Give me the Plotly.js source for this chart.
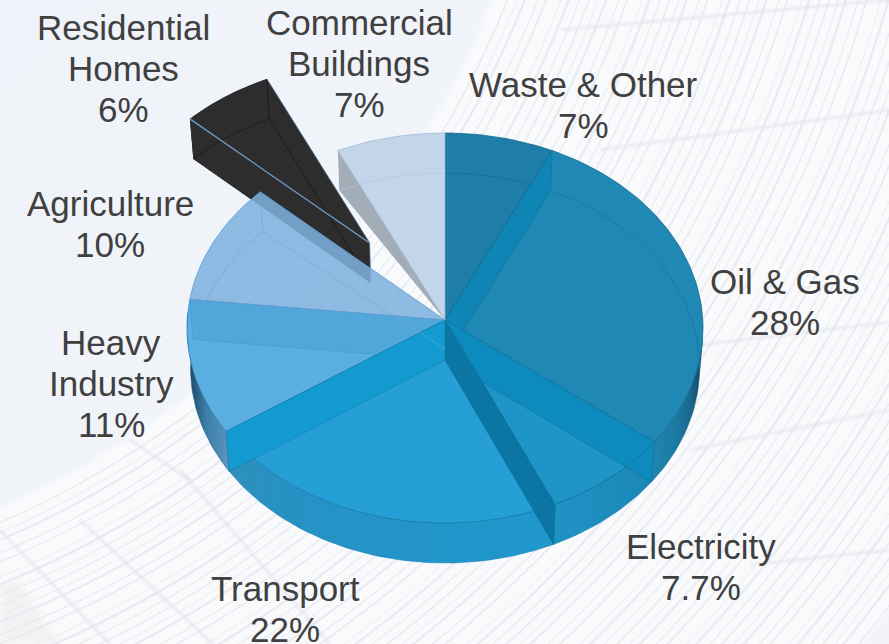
<!DOCTYPE html>
<html>
<head>
<meta charset="utf-8">
<script src="https://cdn.plot.ly/plotly-3.0.1.min.js"></script>
<style>html,body{margin:0;padding:0;background:#f4f6fb}#chart{width:889px;height:644px}</style>
</head>
<body>
<div id="chart"></div>
<script>
// Greenhouse gas shares by sector, clockwise from twelve o'clock
const sectors = ["Waste & Other","Oil & Gas","Electricity","Transport","Heavy Industry","Agriculture","Residential Homes","Commercial Buildings"];
const shares = [7, 28, 7.7, 22, 11, 10, 6, 7];
const shareLabels = ["7%","28%","7.7%","22%","11%","10%","6%","7%"];
const labelLines = [["Waste & Other"],["Oil & Gas"],["Electricity"],["Transport"],["Heavy","Industry"],["Agriculture"],["Residential","Homes"],["Commercial","Buildings"]];

// Where each label block sits: centre x and centre y of its first line
const labelAnchors = [[583,84],[785,281],[701,546],[285,588],[111,342],[110,203],[123,27],[359,22]];
const lineStep = 41;

const faceColors = ["#1e7ea7","#1f88b4","#1e95c6","#259fd5","#5aaee0","rgba(126,177,223,0.87)","#2d2d2d","#c2d5e9"];

// Projection of the tilted disc: a disc automorphism keeps the rim elliptical
// while moving the centre point slightly away from the ellipse centre
const TILT = -0.041;
const TOP = {cx:445, cy:328, rx:258, ry:195};
const BASE = {cx:445, cy:368, rx:254.5, ry:195};
function project(u, v, plane) {
  const w = 1 + TILT * v;
  return [plane.cx + plane.rx * Math.sqrt(1 - TILT * TILT) * u / w,
          plane.cy + plane.ry * (v + TILT) / w];
}
function rimPoint(deg, plane, ex, ey) {
  const t = deg * Math.PI / 180;
  return project(Math.sin(t) + (ex || 0), -Math.cos(t) + (ey || 0), plane);
}
function arc(a, b, plane, ex, ey) {
  const n = Math.max(2, Math.ceil(Math.abs(b - a) / 1.5));
  const out = [];
  for (let i = 0; i <= n; i++) out.push(rimPoint(a + (b - a) * i / n, plane, ex, ey));
  return out;
}
const total = shares.reduce((s, v) => s + v, 0);
const edges = [0];
shares.forEach(v => edges.push(edges[edges.length - 1] + v / total * 360));
const apexTop = project(0, 0, TOP);
const apexBase = project(0, 0, BASE);

const traces = [];
function poly(points, fill, lineColor, lineWidth, gradient) {
  const tr = {
    type: "scatter", mode: "lines", hoverinfo: "skip", showlegend: false,
    x: points.map(p => p[0]), y: points.map(p => p[1]),
    line: {color: lineColor || "rgba(0,0,0,0)", width: lineWidth === undefined ? 0.8 : lineWidth}
  };
  if (fill || gradient) {
    tr.fill = "toself";
    tr.x.push(tr.x[0]); tr.y.push(tr.y[0]);
    if (gradient) tr.fillgradient = {type: "horizontal", colorscale: gradient};
    else tr.fillcolor = fill;
  }
  traces.push(tr);
}
function stroke(points, color, width) { poly(points, null, color, width); }
function face(i) { return [apexTop].concat(arc(edges[i], edges[i + 1], TOP)); }
function band(deg) { return [apexTop, rimPoint(deg, TOP), rimPoint(deg, BASE), apexBase]; }
function rim(a, b) { return arc(a, b, TOP).concat(arc(b, a, BASE)); }

// Residential wedge pulled out of the disc along its middle angle
const midRes = (edges[6] + edges[7]) / 2 * Math.PI / 180;
const pull = 0.5, ex = Math.sin(midRes) * pull, ey = -Math.cos(midRes) * pull;
const resApexTop = project(ex, ey, TOP), resApexBase = project(ex, ey, BASE);
const dark = "#2d2d2d";
poly([resApexBase].concat(arc(edges[6], edges[7], BASE, ex, ey)), dark);
poly([resApexTop, rimPoint(edges[6], TOP, ex, ey), rimPoint(edges[6], BASE, ex, ey), resApexBase], dark);
poly(arc(edges[6], edges[7], TOP, ex, ey).concat(arc(edges[7], edges[6], BASE, ex, ey)), dark);
poly([resApexTop].concat(arc(edges[6], edges[7], TOP, ex, ey)), dark);
stroke([resApexBase, rimPoint(edges[7], BASE, ex, ey)], "#191919", 0.8);
stroke(arc(edges[6], edges[7], BASE, ex, ey), "#191919", 0.8);
stroke([rimPoint(edges[7], TOP, ex, ey), rimPoint(edges[7], BASE, ex, ey)], "#191919", 0.8);
stroke([resApexTop, rimPoint(edges[6], TOP, ex, ey)], "#6f9dc8", 1.3);
stroke([resApexTop, rimPoint(edges[7], TOP, ex, ey)], "#3c5f7e", 0.8);
stroke([resApexTop, resApexBase], "#4a6f92", 0.8);

// Side walls along the front of the disc
poly(rim(96, edges[2]), null, "#14607f", 0.5, [[0,"#1f86b2"],[0.5,"#1b7aa3"],[0.8,"#1a6488"],[1,"#123f58"]]);
poly(rim(edges[2], edges[3]), null, "#147fae", 0.5, [[0,"#1f93c5"],[1,"#1b87b6"]]);
poly(rim(edges[3], edges[4]), null, "#157fb0", 0.5, [[0,"#2f8fbb"],[0.2,"#2592c4"],[1,"#1f97cd"]]);
poly(rim(edges[4], 272), null, "#1d5d85", 0.5, [[0,"#1a3f5e"],[0.45,"#3b7ea7"],[1,"#5c96bd"]]);

// Back slices and their inner walls
poly(face(0), faceColors[0], "#17688c", 0.8);
stroke(arc(edges[0], edges[1], BASE), "#186d92", 0.8);
poly(face(1), faceColors[1], "#17688c", 0.8);
poly(band(edges[1]), "#0e85b5", "#17688c", 0.5);
stroke(arc(edges[1], 94, BASE), "#1a779f", 0.9);
// Front slices, each covering the wall of the slice behind it
poly(face(2), faceColors[2], "#177aa5", 0.6);
poly(band(edges[2]), "#0d8bbe", "#13709a", 0.6);
poly(face(4), faceColors[4], "#2d86bb", 0.6);
poly(band(edges[5]), "#52a7da", "#4596c8", 0.5);
poly(face(3), faceColors[3], "#167eac", 0.9);
poly(band(edges[3]), "#0b76a3", "#0a6c96", 0.5);
poly(band(edges[4]), "#139ad0", "#0f7fb0", 0.6);
stroke(arc(edges[2], edges[3], TOP), "#1174a0", 0.9);

// Commercial wall, then the two pale slices laid over everything behind them
poly([rimPoint(edges[7], TOP), rimPoint(edges[7], BASE), apexTop], "#a3adb8");
poly(face(5), faceColors[5], "#5f9bd0", 0.8);
stroke([rimPoint(edges[6], TOP), rimPoint(edges[6], BASE)], "#6da2d1", 0.6);
stroke(arc(edges[5], edges[6], BASE), "#6da2d1", 0.6);
stroke([rimPoint(edges[6], BASE), apexBase.map((c, k) => c + (apexTop[k] - c) * 0.28)], "#76a7d3", 0.6);
poly(face(7), faceColors[7], "#96b5d6", 0.7);
stroke(arc(edges[7], 360, BASE), "#b3c8de", 0.6);

// Labels: sector name lines followed by the share, each line at a fixed step
const annotations = [];
labelLines.forEach((lines, i) => {
  lines.concat([shareLabels[i]]).forEach((text, k) => {
    annotations.push({
      x: labelAnchors[i][0], y: labelAnchors[i][1] + k * lineStep,
      xref: "x", yref: "y", text: text, showarrow: false,
      xanchor: "center", yanchor: "middle",
      font: {family: "Liberation Sans, Arial, sans-serif", size: 35, color: "#404040"}
    });
  });
});

// Pale architectural backdrop: concentric stripes beyond a dome edge
function backdrop() {
  const c = document.createElement("canvas");
  c.width = 889; c.height = 644;
  const g = c.getContext("2d");
  const sky = g.createLinearGradient(0, 0, 500, 500);
  sky.addColorStop(0, "#eff3f9"); sky.addColorStop(1, "#f2f4f9");
  g.fillStyle = sky; g.fillRect(0, 0, 889, 644);
  const ox = -385, oy = -359;
  g.save();
  g.filter = "blur(3px)";
  g.beginPath(); g.arc(ox, oy, 1600, 0, Math.PI * 2); g.arc(ox, oy, 948, 0, Math.PI * 2, true);
  g.fillStyle = "#f9fafc"; g.fill("evenodd");
  g.filter = "blur(0.6px)";
  const widths = [1.6, 1, 2.2, 1.2, 1.6, 0.9, 2.4, 1.2];
  const gaps = [9, 7, 12, 8, 14, 7, 10, 9];
  let r = 962, k = 0;
  while (r < 1600) {
    g.strokeStyle = "rgba(222,225,231,0.6)";
    g.lineWidth = widths[k % widths.length];
    g.beginPath(); g.arc(ox, oy, r, 0, Math.PI * 2); g.stroke();
    r += gaps[k % gaps.length]; k++;
  }
  // Faint ribs crossing the stripes
  g.filter = "blur(1.2px)";
  g.strokeStyle = "rgba(224,227,232,0.6)"; g.lineWidth = 3;
  [[[700,345],[889,322]], [[690,450],[889,410]], [[750,565],[889,550]],
   [[80,520],[213,644]], [[0,530],[110,644]], [[180,470],[330,644]], [[130,440],[190,480]],
   [[560,30],[889,0]], [[600,150],[889,110]]].forEach(s => {
    g.beginPath(); g.moveTo(s[0][0], s[0][1]); g.lineTo(s[1][0], s[1][1]); g.stroke();
  });
  g.filter = "blur(3px)";
  g.fillStyle = "rgba(232,233,236,0.45)";
  g.beginPath(); g.moveTo(0, 585); g.lineTo(15, 578); g.lineTo(60, 644); g.lineTo(0, 644); g.fill();
  g.restore();
  return c.toDataURL("image/png");
}

const layout = {
  width: 889, height: 644,
  margin: {l: 0, r: 0, t: 0, b: 0},
  paper_bgcolor: "rgba(0,0,0,0)", plot_bgcolor: "rgba(0,0,0,0)",
  xaxis: {range: [0, 889], visible: false, fixedrange: true},
  yaxis: {range: [644, 0], visible: false, fixedrange: true},
  showlegend: false,
  annotations: annotations,
  images: [{source: backdrop(), xref: "paper", yref: "paper", x: 0, y: 1, sizex: 1, sizey: 1, sizing: "stretch", layer: "below"}]
};
Plotly.newPlot("chart", traces, layout, {displayModeBar: false, staticPlot: true});
</script>
</body>
</html>
